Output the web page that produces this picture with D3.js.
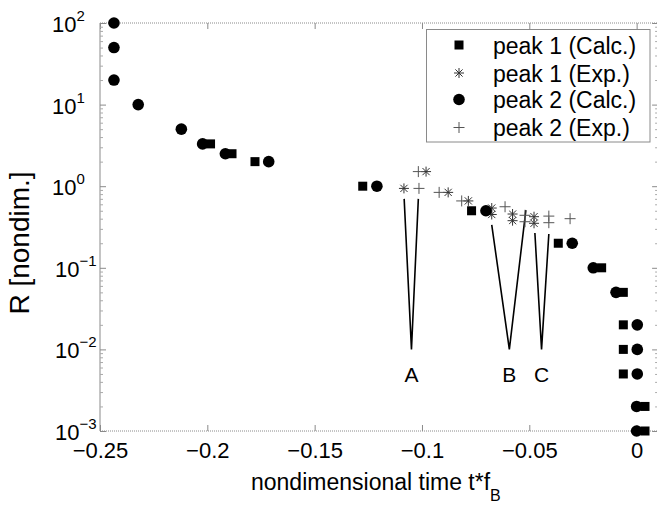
<!DOCTYPE html>
<html>
<head>
<meta charset="utf-8">
<script src="https://cdn.jsdelivr.net/npm/d3@7"></script>
<style>
  body { margin: 0; background: #fff; }
  svg { font-family: "Liberation Sans", Arial, sans-serif; }
</style>
</head>
<body>
<svg id="chart" width="657" height="508"></svg>
<script>
// peak 1 (Calc.) - squares
var p1CalcT = [-0.1985, -0.1885, -0.1778, -0.1276, -0.0769, -0.0365, -0.0163, -0.0062, -0.0062, -0.0062, -0.0062, 0.0039, 0.0039];
var p1CalcR = [3.3, 2.5, 2.0, 1.0, 0.5, 0.2, 0.1, 0.05, 0.02, 0.01, 0.005, 0.002, 0.001];
// peak 1 (Exp.) - asterisks
var p1ExpT = [-0.1084, -0.0981, -0.0878, -0.0784, -0.0675, -0.0675, -0.0578, -0.0578, -0.0478, -0.0478];
var p1ExpR = [0.94, 1.51, 0.84, 0.66, 0.54, 0.45, 0.456, 0.378, 0.423, 0.351];
// peak 2 (Calc.) - circles
var p2CalcT = [-0.2435, -0.2435, -0.2435, -0.2322, -0.2121, -0.2022, -0.1916, -0.1714, -0.121, -0.0702, -0.030, -0.0202, -0.0096, 0.0003, 0.0003, 0.0003, 0, 0];
var p2CalcR = [100, 50, 20, 10, 5, 3.3, 2.5, 2.0, 1.0, 0.5, 0.2, 0.1, 0.05, 0.02, 0.01, 0.005, 0.002, 0.001];
// peak 2 (Exp.) - plus
var p2ExpT = [-0.1014, -0.1017, -0.092, -0.0815, -0.0613, -0.052, -0.052, -0.0409, -0.0409, -0.031];
var p2ExpR = [0.94, 1.51, 0.84, 0.66, 0.56, 0.44, 0.367, 0.43, 0.357, 0.40];

// V-shaped annotation lines A, B, C
var annotLabels = ["A", "B", "C"];
var annotT = [[-0.1083, -0.1049, -0.1017], [-0.0675, -0.0593, -0.0516], [-0.0474, -0.0443, -0.0409]];
var annotR = [[0.70, 0.01, 0.70], [0.335, 0.01, 0.51], [0.267, 0.01, 0.26]];

var xTicks = [-0.25, -0.2, -0.15, -0.1, -0.05, 0];
var xTickLabels = ["\u22120.25", "\u22120.2", "\u22120.15", "\u22120.1", "\u22120.05", "0"];
var yTicks = [1e-3, 1e-2, 1e-1, 1, 10, 100];
var yTickExp = ["\u22123", "\u22122", "\u22121", "0", "1", "2"];

var legendNames = ["peak 1 (Calc.)", "peak 1 (Exp.)", "peak 2 (Calc.)", "peak 2 (Exp.)"];

var svg = d3.select("#chart"),
    fontFam = "Liberation Sans, Arial, sans-serif",
    frameColor = "#8a8a8a";

var x = d3.scaleLinear().domain([-0.25, 0.01]).range([100, 658.1]),
    y = d3.scaleLog().domain([1e-3, 1e2]).range([431, 23]);

var zip = function (a, b) { return a.map(function (v, i) { return [v, b[i]]; }); };

// frame
svg.append("line").attr("x1", 100).attr("x2", 100).attr("y1", 23).attr("y2", 431)
    .attr("stroke", frameColor);
svg.append("line").attr("x1", 100).attr("x2", 657).attr("y1", 23).attr("y2", 23)
    .attr("stroke", frameColor).attr("stroke-dasharray", "1,1");
svg.append("line").attr("x1", 100).attr("x2", 657).attr("y1", 431).attr("y2", 431)
    .attr("stroke", frameColor).attr("stroke-dasharray", "1,1");

// x axis
var xAxis = d3.axisBottom(x).tickValues(xTicks).tickSize(-6).tickPadding(11)
    .tickFormat(function (d, i) { return xTickLabels[i]; });
var gx = svg.append("g").attr("transform", "translate(0,431)").call(xAxis)
    .attr("font-family", fontFam).attr("font-size", 22);
gx.select(".domain").remove();
gx.selectAll(".tick line").attr("stroke", frameColor);
gx.selectAll(".tick text").attr("fill", "#000");

var gxTop = svg.append("g").attr("transform", "translate(0,23)")
    .call(d3.axisTop(x).tickValues(xTicks).tickSize(-6).tickFormat(""));
gxTop.select(".domain").remove();
gxTop.selectAll(".tick line").attr("stroke", frameColor);

// y axis, majors and minors
var minorTicks = y.ticks().filter(function (d) { return yTicks.indexOf(d) < 0; });
var gy = svg.append("g").attr("transform", "translate(100,0)")
    .call(d3.axisLeft(y).tickValues(yTicks).tickSize(-6).tickFormat(""))
    .attr("font-family", fontFam).attr("font-size", 22).attr("text-anchor", "start");
gy.select(".domain").remove();
gy.selectAll(".tick line").attr("stroke", frameColor);
gy.selectAll(".tick").append("text")
    .attr("x", function (d) { return d >= 1 ? -48 : -45; })
    .attr("y", 8.5)
    .attr("fill", "#000")
    .each(function (d, i) {
        var t = d3.select(this);
        t.append("tspan").text("10");
        t.append("tspan").attr("dy", -11).attr("font-size", 15).text(yTickExp[i]);
    });
var gyMinor = svg.append("g").attr("transform", "translate(100,0)")
    .call(d3.axisLeft(y).tickValues(minorTicks).tickSize(-3).tickFormat(""));
gyMinor.select(".domain").remove();
gyMinor.selectAll(".tick line").attr("stroke", "#aaa");

var gyR = svg.append("g").attr("transform", "translate(658.1,0)")
    .call(d3.axisRight(y).tickValues(yTicks).tickSize(-6).tickFormat(""));
gyR.select(".domain").remove();
gyR.selectAll(".tick line").attr("stroke", frameColor);
var gyRMinor = svg.append("g").attr("transform", "translate(658.1,0)")
    .call(d3.axisRight(y).tickValues(minorTicks).tickSize(-3).tickFormat(""));
gyRMinor.select(".domain").remove();
gyRMinor.selectAll(".tick line").attr("stroke", "#aaa");

// axis labels
svg.append("text")
    .attr("transform", "translate(29,243) rotate(-90)")
    .attr("text-anchor", "middle")
    .attr("font-size", 28)
    .text("R [nondim.]");

var xl = svg.append("text").attr("x", 251).attr("y", 490).attr("font-size", 23);
xl.append("tspan").text("nondimensional time t*f");
xl.append("tspan").attr("dy", 11).attr("font-size", 16).text("B");

// annotation V lines
var line = d3.line().x(function (d) { return x(d[0]); }).y(function (d) { return y(d[1]); });
svg.selectAll(".annot").data(annotT).enter().append("path")
    .attr("class", "annot")
    .attr("d", function (d, i) { return line(zip(d, annotR[i])); })
    .attr("fill", "none").attr("stroke", "#000").attr("stroke-width", 1.6);
svg.selectAll(".annotLabel").data(annotLabels).enter().append("text")
    .attr("class", "annotLabel")
    .attr("x", function (d, i) { return x(annotT[i][1]); })
    .attr("y", y(0.01) + 33)
    .attr("text-anchor", "middle")
    .attr("font-size", 21)
    .text(function (d) { return d; });

// marker shapes
function drawMarker(g, kind) {
    if (kind === "square") {
        g.append("rect").attr("x", -4.5).attr("y", -4.5).attr("width", 9).attr("height", 9).attr("fill", "#000");
    } else if (kind === "circle") {
        g.append("circle").attr("r", 5.8).attr("fill", "#000");
    } else if (kind === "star") {
        g.append("path").attr("d", "M-5,0H5M0,-5V5M-3.6,-3.6L3.6,3.6M-3.6,3.6L3.6,-3.6")
            .attr("stroke", "#333").attr("stroke-width", 1).attr("fill", "none");
    } else {
        g.append("path").attr("d", "M-5.5,0H5.5M0,-5.5V5.5")
            .attr("stroke", "#555").attr("stroke-width", 1).attr("fill", "none");
    }
}

var seriesList = [
    {t: p1ExpT, r: p1ExpR, kind: "star"},
    {t: p2ExpT, r: p2ExpR, kind: "plus"},
    {t: p1CalcT, r: p1CalcR, kind: "square"},
    {t: p2CalcT, r: p2CalcR, kind: "circle"}
];
seriesList.forEach(function (s) {
    svg.append("g").selectAll("g").data(zip(s.t, s.r)).enter().append("g")
        .attr("transform", function (d) { return "translate(" + x(d[0]) + "," + y(d[1]) + ")"; })
        .each(function () { drawMarker(d3.select(this), s.kind); });
});

// legend
var legend = svg.append("g");
legend.append("rect").attr("x", 426.5).attr("y", 29.5).attr("width", 223.5).attr("height", 112.5)
    .attr("fill", "#fff").attr("stroke", frameColor);
var legKinds = ["square", "star", "circle", "plus"];
var legRows = [45, 73, 99.5, 127.5];
legendNames.forEach(function (name, i) {
    var g = legend.append("g").attr("transform", "translate(459," + legRows[i] + ")");
    drawMarker(g, legKinds[i]);
    legend.append("text").attr("x", 493).attr("y", legRows[i] + 8.5)
        .attr("font-size", 23).text(name);
});
</script>
</body>
</html>
